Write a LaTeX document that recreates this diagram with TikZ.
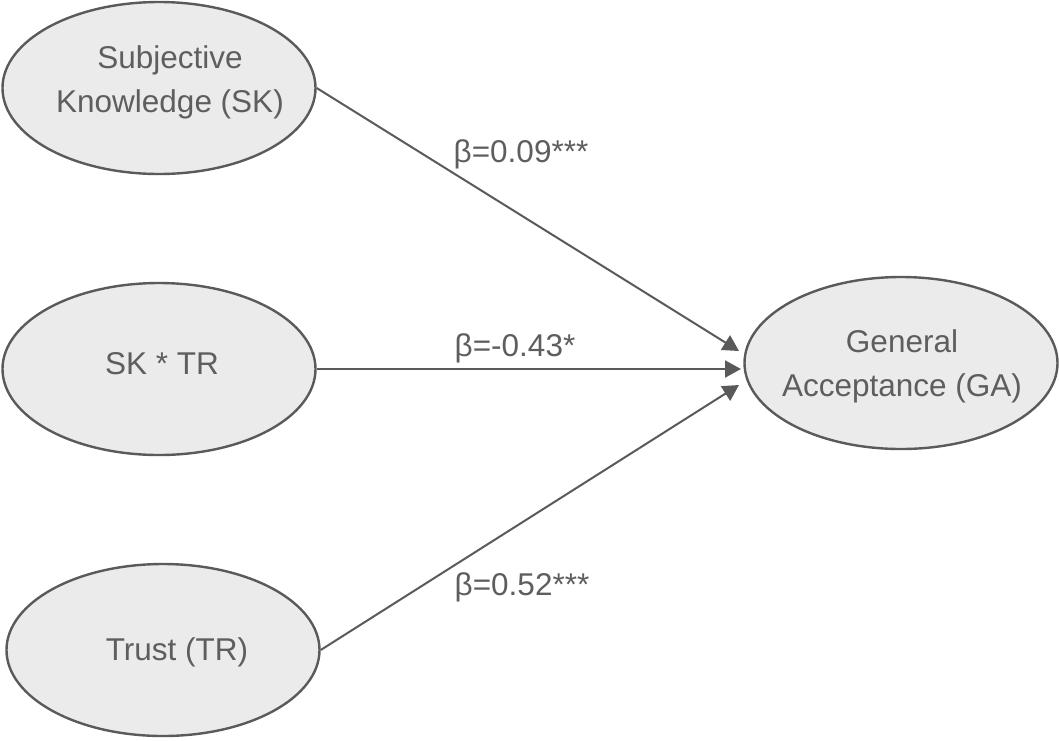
\documentclass[tikz,border=0pt]{standalone}
\usepackage{fontspec}
\setmainfont{Liberation Sans}
\usetikzlibrary{shapes.geometric,arrows.meta}
\definecolor{edge}{HTML}{5A5A5A}
\definecolor{fillg}{HTML}{EBEBEC}
\definecolor{txt}{HTML}{5E5E5E}
\begin{document}
\begin{tikzpicture}[x=1pt,y=-1pt,
  construct/.style={ellipse, draw=edge, fill=fillg, line width=2.4pt, minimum width=313pt, minimum height=172pt, inner sep=0pt},
  ctext/.style={align=center, text=txt, inner sep=0pt, font=\fontsize{31.5}{44}\selectfont},
  path/.style={draw=edge, line width=2pt, -{Triangle[length=16pt,width=17pt]}},
  coef/.style={anchor=base, text=txt, font=\fontsize{31.5}{36}\selectfont, inner sep=0pt}]
\useasboundingbox (0,0) rectangle (1059,740);
\node[construct] (sk) at (159,88) {};
\node[construct] (sktr) at (159,369) {};
\node[construct] (tr) at (163,650) {};
\node[construct] (ga) at (901,363) {};
\node[ctext] (skt) at (170,82) {Subjective\\Knowledge (SK)};
\node[ctext] (sktrt) at (162,364) {SK * TR};
\node[ctext] (trt) at (177,652) {Trust (TR)};
\node[ctext] (gat) at (902,366) {General\\Acceptance (GA)};
\coordinate (t1) at (739,351);
\coordinate (t2) at (741,369);
\coordinate (t3) at (739,385);
\draw[path] (sk.east) -- (t1);
\draw[path] (sktr.east) -- (t2);
\draw[path] (tr.east) -- (t3);
\node[coef] (b1) at (521,162) {β=0.09***};
\node[coef] (b2) at (515,356) {β=-0.43*};
\node[coef] (b3) at (522,595) {β=0.52***};
\end{tikzpicture}
\end{document}
